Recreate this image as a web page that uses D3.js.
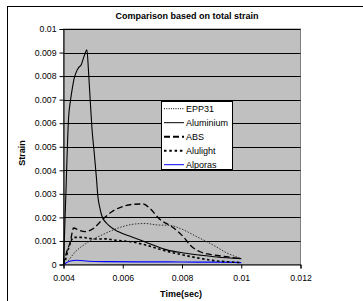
<!DOCTYPE html>
<html><head><meta charset="utf-8">
<script src="https://cdn.jsdelivr.net/npm/d3@7/dist/d3.min.js"></script>
<style>body{margin:0;background:#fff}svg{display:block}text{font-family:"Liberation Sans",Arial,sans-serif}</style>
</head><body><svg id="c" width="363" height="301"></svg>
<script>
const seriesNames = ["EPP31","Aluminium","ABS","Alulight","Alporas"];
const xTicks = [0.004,0.006,0.008,0.01,0.012];
const xTickLabels = ["0.004","0.006","0.008","0.01","0.012"];
const yTicks = [0,0.001,0.002,0.003,0.004,0.005,0.006,0.007,0.008,0.009,0.01];
const yTickLabels = ["0","0.001","0.002","0.003","0.004","0.005","0.006","0.007","0.008","0.009","0.01"];

const eppT = [0.004,0.00406,0.0044,0.00484,0.00541,0.00597,0.00642,0.00676,0.00716,0.0076,0.00794,0.0085,0.00906,0.0095,0.01];
const eppV = [0,0.00004,0.00054,0.00096,0.00132,0.0016,0.00172,0.00174,0.00168,0.00166,0.00153,0.00118,0.00082,0.0005,0.00025];

const aluT = [0.004,0.00408,0.00417,0.00424,0.0043,0.00436,0.00444,0.00451,0.0046,0.00467,0.00474,0.00479,0.00484,0.0049,0.00496,0.00504,0.00511,0.00516,0.00522,0.0053,0.00552,0.00586,0.00631,0.00676,0.00749,0.00805,0.00861,0.00918,0.01];
const aluV = [0,0.003,0.0062,0.007,0.0075,0.0079,0.0082,0.00836,0.00848,0.00875,0.009,0.00912,0.0083,0.007,0.0058,0.0047,0.0037,0.0029,0.00245,0.00205,0.00167,0.00139,0.00117,0.00096,0.00062,0.00049,0.0004,0.00032,0.00025];

const absT = [0.004,0.00411,0.00423,0.00434,0.00451,0.00473,0.00501,0.0053,0.00563,0.00597,0.00631,0.0067,0.0069,0.00726,0.00766,0.00805,0.00828,0.00861,0.00895,0.00950,0.01];
const absV = [0,0.00054,0.00096,0.00155,0.00146,0.0014,0.00153,0.00189,0.00224,0.00245,0.00255,0.00257,0.0024,0.00191,0.0016,0.00117,0.00082,0.00054,0.00043,0.00033,0.00025];

const alulT = [0.004,0.00406,0.00417,0.00434,0.00462,0.00507,0.00541,0.00575,0.00631,0.0067,0.00749,0.00805,0.00861,0.00918,0.0096,0.01];
const alulV = [0,0.00018,0.00068,0.00115,0.00115,0.00108,0.00109,0.00103,0.00096,0.00085,0.00056,0.0004,0.00026,0.00015,0.00011,0.00008];

const alpT = [0.004,0.00423,0.00445,0.00484,0.0055,0.0065,0.0075,0.0085,0.0093,0.01];
const alpV = [0,0.00015,0.00018,0.00014,0.00012,0.00011,0.00011,0.0001,0.0001,0.00008];

const svg = d3.select("#c");
const L=63.5,R=300.5,T=29,B=264.5;
const x = d3.scaleLinear().domain([0.004,0.012]).range([L,R]);
const y = d3.scaleLinear().domain([0,0.01]).range([B,T]);

// outer chart frame
svg.append("rect").attr("x",7.5).attr("y",6.5).attr("width",420).attr("height",420)
  .attr("fill","#fff").attr("stroke","#000").attr("stroke-width",1);

// plot area
svg.append("rect").attr("x",L).attr("y",T).attr("width",R-L).attr("height",B-T)
  .attr("fill","#c0c0c0").attr("stroke","#808080").attr("stroke-width",1);

// gridlines
svg.append("g").selectAll("line").data(yTicks.filter(v=>v>0)).join("line")
  .attr("x1",L).attr("x2",R).attr("y1",d=>Math.round(y(d))+0.5).attr("y2",d=>Math.round(y(d))+0.5)
  .attr("stroke","#000").attr("stroke-width",1);

// axes
const yAxis = d3.axisLeft(y).tickValues(yTicks).tickFormat((d,i)=>yTickLabels[i]).tickSize(4).tickPadding(3);
const gy = svg.append("g").attr("transform",`translate(${L},0)`).call(yAxis);
const xAxis = d3.axisBottom(x).tickValues(xTicks).tickFormat((d,i)=>xTickLabels[i]).tickSize(4).tickPadding(6);
const gx = svg.append("g").attr("transform",`translate(0,${B})`).call(xAxis);
[gx,gy].forEach(g=>{
  g.select(".domain").attr("stroke","#000");
  g.selectAll(".tick line").attr("stroke","#000");
  g.selectAll("text").attr("font-size","8.7px").attr("fill","#000").attr("font-family","'Liberation Sans',Arial,sans-serif");
});

// series
const styles = {
  EPP31:{stroke:"#222",w:0.9,dash:"1.5,1.5"},
  Aluminium:{stroke:"#000",w:1.1,dash:null},
  ABS:{stroke:"#000",w:1.3,dash:"6,3"},
  Alulight:{stroke:"#000",w:1.6,dash:"2.5,2.5"},
  Alporas:{stroke:"#0000ff",w:1.1,dash:null}
};
const data = {
  EPP31: eppT.map((t,i)=>[t,eppV[i]]),
  Aluminium: aluT.map((t,i)=>[t,aluV[i]]),
  ABS: absT.map((t,i)=>[t,absV[i]]),
  Alulight: alulT.map((t,i)=>[t,alulV[i]]),
  Alporas: alpT.map((t,i)=>[t,alpV[i]])
};
const line = d3.line().x(d=>x(d[0])).y(d=>y(d[1])).curve(d3.curveMonotoneX);
const order = ["EPP31","Alporas","Alulight","ABS","Aluminium"];
order.forEach(n=>{
  const s=styles[n];
  svg.append("path").datum(data[n]).attr("d",line).attr("fill","none")
    .attr("stroke",s.stroke).attr("stroke-width",s.w).attr("stroke-dasharray",s.dash);
});

// legend
const lg = svg.append("g");
lg.append("rect").attr("x",161.5).attr("y",101.5).attr("width",71).attr("height",68)
  .attr("fill","#fff").attr("stroke","#000").attr("stroke-width",1);
const legStyles = {
  EPP31:{w:1,dash:"1,1.3"},
  Aluminium:{w:1,dash:null},
  ABS:{w:2,dash:"6,3"},
  Alulight:{w:2,dash:"2.5,2.8"},
  Alporas:{w:1,dash:null}
};
seriesNames.forEach((n,i)=>{
  const yy = 108.7 + i*14;
  lg.append("line").attr("x1",164).attr("x2",184).attr("y1",yy).attr("y2",yy)
    .attr("stroke",styles[n].stroke==="#222"?"#000":styles[n].stroke)
    .attr("stroke-width",legStyles[n].w).attr("stroke-dasharray",legStyles[n].dash);
  lg.append("text").attr("x",186).attr("y",yy).attr("dy","0.35em").attr("font-size","9px").text(n);
});

// title & axis labels
svg.append("text").attr("x",187).attr("y",19).attr("text-anchor","middle")
  .attr("font-size","9px").attr("font-weight","bold").text("Comparison based on total strain");
svg.append("text").attr("x",181).attr("y",297).attr("text-anchor","middle")
  .attr("font-size","9px").attr("font-weight","bold").text("Time(sec)");
svg.append("text").attr("transform","translate(25,153) rotate(-90)").attr("text-anchor","middle")
  .attr("font-size","9px").attr("font-weight","bold").text("Strain");
</script></body></html>
